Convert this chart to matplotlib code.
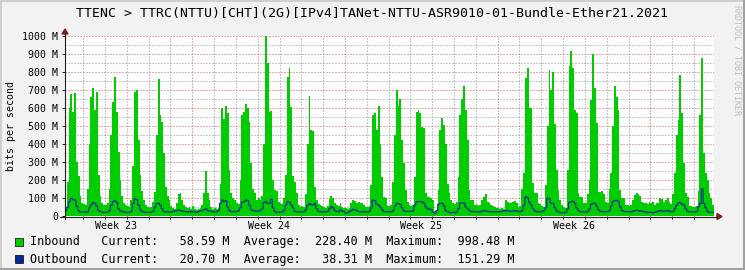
import numpy as np
import matplotlib
matplotlib.use("Agg")
import matplotlib.pyplot as plt
from matplotlib.patches import Polygon, Rectangle

# traffic in M bits/s, one sample every 2 hours
# one row per day (first and last rows are partial days)
inbound = [
    40, 190, 600, 680, 580, 685, 300, 220, 110, 70,
    65, 60, 150, 400, 660, 710, 590, 690, 230, 110, 70, 60,
    60, 70, 150, 450, 635, 775, 580, 357, 200, 110, 70, 60,
    55, 50, 90, 280, 690, 700, 420, 230, 140, 90, 60, 50,
    45, 50, 80, 135, 450, 760, 560, 524, 350, 163, 110, 89,
    55, 45, 40, 70, 120, 130, 90, 60, 50, 45, 50, 40,
    55, 40, 35, 40, 45, 60, 130, 250, 130, 90, 50, 40,
    45, 40, 45, 180, 600, 540, 610, 570, 255, 126, 100, 89,
    70, 65, 200, 560, 580, 620, 600, 520, 294, 150, 126, 90,
    100, 90, 110, 400, 998.48, 850, 580, 585, 200, 145, 140, 80,
    70, 65, 100, 230, 774, 820, 607, 220, 190, 126, 60, 52,
    55, 50, 120, 400, 665, 480, 470, 163, 90, 65, 60, 55,
    50, 45, 55, 95, 110, 100, 75, 60, 55, 70, 50, 45,
    45, 40, 45, 75, 90, 85, 75, 80, 75, 70, 60, 50,
    50, 55, 172, 560, 570, 480, 610, 400, 218, 107, 100, 55,
    55, 60, 190, 450, 700, 610, 650, 420, 293, 144, 80, 61,
    55, 60, 218, 580, 590, 570, 496, 490, 126, 107, 107, 100,
    90, 30, 30, 144, 480, 545, 505, 400, 180, 126, 90, 70,
    65, 80, 218, 560, 650, 725, 590, 422, 144, 89, 89, 61,
    60, 55, 60, 90, 105, 125, 80, 70, 60, 55, 50, 45,
    45, 40, 45, 40, 90, 80, 75, 70, 80, 85, 70, 50,
    55, 150, 237, 767, 825, 600, 598, 181, 126, 126, 75, 65,
    55, 50, 172, 500, 810, 700, 800, 513, 255, 144, 89, 60,
    50, 45, 255, 833, 915, 820, 590, 570, 126, 107, 107, 70,
    70, 120, 200, 644, 900, 709, 515, 135, 135, 140, 120, 80,
    70, 150, 237, 500, 725, 663, 589, 144, 98, 98, 61, 61,
    55, 60, 90, 115, 130, 120, 110, 80, 75, 70, 65, 80,
    70, 80, 60, 75, 70, 100, 95, 80, 90, 100, 80, 65,
    120, 240, 450, 533, 785, 575, 293, 126, 107, 55, 55, 50,
    50, 55, 140, 560, 880, 350, 240, 200, 130, 100, 58.59,
]

outbound = [
    33, 50, 80, 98, 90, 89, 55, 30, 22, 22,
    22, 20, 25, 45, 60, 75, 70, 55, 30, 25, 20, 20,
    20, 22, 30, 60, 80, 85, 75, 40, 30, 25, 22, 20,
    20, 20, 25, 70, 95, 90, 60, 35, 25, 22, 20, 20,
    20, 22, 25, 50, 70, 70, 60, 40, 25, 22, 24, 22,
    22, 25, 28, 30, 33, 30, 28, 25, 24, 22, 25, 22,
    24, 22, 20, 25, 28, 30, 35, 40, 30, 28, 25, 24,
    22, 22, 30, 70, 89, 80, 85, 50, 30, 24, 22, 24,
    25, 30, 45, 75, 80, 89, 85, 60, 35, 30, 28, 25,
    28, 30, 40, 75, 80, 70, 70, 93, 45, 25, 20, 22,
    20, 22, 30, 60, 80, 75, 61, 45, 25, 24, 22, 22,
    22, 24, 35, 60, 70, 62, 61, 70, 40, 25, 24, 22,
    24, 22, 25, 40, 52, 45, 30, 25, 24, 35, 28, 24,
    15, 18, 24, 30, 37, 35, 30, 25, 22, 22, 24, 22,
    22, 25, 45, 89, 85, 65, 61, 50, 35, 25, 24, 24,
    24, 22, 30, 55, 70, 68, 65, 45, 28, 26, 25, 25,
    25, 30, 60, 80, 80, 80, 78, 70, 50, 40, 38, 35,
    20, 15, 30, 65, 70, 70, 55, 30, 24, 20, 18, 20,
    18, 22, 40, 70, 74, 72, 50, 41, 30, 24, 24, 24,
    24, 22, 24, 28, 30, 28, 26, 24, 24, 22, 24, 24,
    22, 24, 26, 30, 28, 30, 27, 26, 28, 30, 26, 24,
    24, 30, 60, 107, 100, 75, 61, 40, 28, 24, 24, 22,
    24, 30, 45, 98, 95, 70, 70, 45, 28, 22, 18, 18,
    18, 20, 40, 75, 80, 82, 70, 45, 30, 25, 22, 22,
    22, 24, 40, 65, 70, 70, 55, 35, 26, 24, 24, 24,
    24, 30, 55, 80, 85, 88, 80, 50, 30, 26, 24, 24,
    24, 22, 26, 30, 32, 30, 28, 26, 24, 22, 20, 20,
    20, 18, 20, 24, 26, 30, 28, 26, 28, 30, 26, 24,
    24, 40, 60, 74, 74, 65, 61, 40, 26, 22, 22, 22,
    22, 25, 50, 70, 151.29, 70, 45, 25, 22, 20, 20.7,
]

week_names = ["Week 23", "Week 24", "Week 25", "Week 26"]
y_ticks = list(range(0, 1001, 100))
title = "TTENC > TTRC(NTTU)[CHT](2G)[IPv4]TANet-NTTU-ASR9010-01-Bundle-Ether21.2021"
legend_rows = [
    ("Inbound",  "#00CC00", "58.59", "228.40", "998.48"),
    ("Outbound", "#002A97", "20.70", "38.31", "151.29"),
]

plt.rcParams['font.family'] = 'DejaVu Sans Mono'

step = 1 / 12                  # 2 hours, in days
first_midnight = 10 * step     # first day line
first_week = first_midnight + 5
edges_in = np.arange(len(inbound) + 1) * step
edges_out = np.arange(len(outbound) + 1) * step
end = len(inbound) * step

fig = plt.figure(figsize=(7.45, 2.70), dpi=100, facecolor='#F2F2F2')
ax = fig.add_axes([65 / 745, 54 / 270, 649 / 745, 180 / 270], facecolor='white')

ax.stairs(inbound, edges_in, fill=True, color='#00CC00', lw=0, zorder=2)
line = ax.stairs(outbound, edges_out, color='#002A97', lw=0.8, baseline=None, zorder=3)
line.set_snap(False)

ax.set_xlim(0, end)
ax.set_ylim(0, 1000)
ax.set_yticks(y_ticks)
ax.set_yticks(np.arange(50, 1000, 100), minor=True)
ax.set_yticklabels(['0' if v == 0 else f'{v} M' for v in y_ticks], fontsize=7.1)
ax.set_xticks(np.arange(first_week, end, 7))
ax.set_xticks(np.arange(first_midnight, end, 1), minor=True)
ax.set_xticklabels([])

ax.grid(which='major', color=(0.87, 0.31, 0.31, 0.55), lw=0.72, ls=(0, (1, 2)))
ax.grid(which='minor', color=(0.56, 0.56, 0.56, 0.6), lw=0.72, ls=(0, (1, 2)))
ax.set_axisbelow(True)
ax.tick_params(which='both', length=2, width=0.7, color='#1F1F1F', pad=3, direction='out')
ax.tick_params(axis='y', which='minor', length=0)
for s in ax.spines.values():
    s.set_visible(False)

for i, name in enumerate(week_names):
    ax.text(first_week - 3.5 + 7 * i, -0.056, name, transform=ax.get_xaxis_transform(),
            ha='center', va='center', fontsize=7.2)

# overlay in pixel units for frame, axes, arrows and legend
ov = fig.add_axes([0, 0, 1, 1], zorder=5)
ov.set_xlim(0, 745)
ov.set_ylim(270, 0)
ov.axis('off')

ov.plot([0, 745], [0.7, 0.7], color='#CFCFCF', lw=1.4)
ov.plot([0.7, 0.7], [0, 270], color='#CFCFCF', lw=1.4)
ov.plot([0, 745], [269.3, 269.3], color='#9E9E9E', lw=1.4)
ov.plot([744.3, 744.3], [0, 270], color='#9E9E9E', lw=1.4)

ov.plot([60, 717], [216.5, 216.5], color='#1F1F1F', lw=0.8)
ov.plot([65, 65], [219, 33], color='#1F1F1F', lw=0.8)
ov.add_patch(Polygon([[717, 213.5], [717, 219.5], [722, 216.5]], color='#801F1F'))
ov.add_patch(Polygon([[62, 34], [68, 34], [65, 29]], color='#801F1F'))

ov.text(372.5, 14, title, ha='center', va='center', fontsize=9.5)
ov.text(11, 126, 'bits per second', rotation=90, ha='center', va='center', fontsize=7.1)
ov.text(737.5, 5, 'RRDTOOL / TOBI OETIKER', rotation=270, ha='center', va='top',
        fontsize=6, color='#BDBDBD')

for i, (name, col, cur, avg, mx) in enumerate(legend_rows):
    y = 242 + 17 * i
    ov.add_patch(Rectangle((15, y - 4.5), 8, 8, facecolor=col, edgecolor='black', lw=0.5))
    text = f"{name:<10}Current:{cur:>8} M  Average:{avg:>8} M  Maximum:{mx:>8} M"
    ov.text(30, y, text, ha='left', va='center', fontsize=8.5)

fig.savefig('out.png', dpi=100, facecolor=fig.get_facecolor())
